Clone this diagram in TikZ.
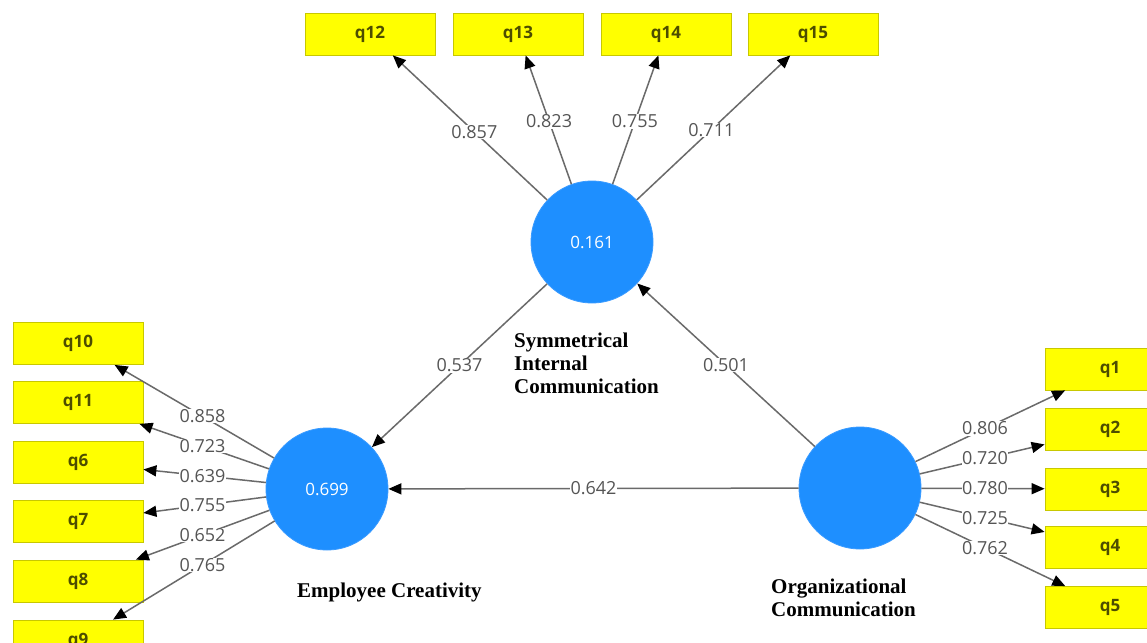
\documentclass[tikz,border=0pt]{standalone}
\usepackage{fontspec}
\setmainfont{Liberation Serif}
\newfontfamily\osans{Open Sans}
\usetikzlibrary{arrows.meta,calc}
\definecolor{boxfill}{HTML}{FFFF00}
\definecolor{boxline}{HTML}{C8C800}
\definecolor{boxtext}{HTML}{4D4D00}
\definecolor{latblue}{HTML}{1E8FFF}
\definecolor{latline}{HTML}{3A9BFF}
\definecolor{linegray}{HTML}{6A6A6A}
\definecolor{labgray}{HTML}{555555}
\tikzset{
  ind/.style={rectangle, fill=boxfill, draw=boxline, line width=0.8pt,
    minimum width=130pt, minimum height=42pt, inner sep=0pt,
    font=\osans\bfseries\fontsize{17}{20}\selectfont, text=boxtext},
  lat/.style={circle, fill=latblue, draw=latline, line width=0.8pt,
    minimum size=122pt, inner sep=0pt,
    font=\osans\fontsize{17}{20}\selectfont, text=white},
  conn/.style={draw=linegray, line width=1.5pt,
    -{Triangle[length=13pt,width=11pt,color=black]}},
  coef/.style={fill=white, inner sep=0.5pt, text=labgray,
    font=\osans\fontsize{18}{20}\selectfont},
  latname/.style={font=\bfseries\fontsize{21}{23}\selectfont, text=black,
    inner sep=0pt, align=left}
}
\begin{document}
\begin{tikzpicture}[x=1pt,y=-1pt]
\useasboundingbox (0,0) rectangle (1147,642);
\clip (0,0) rectangle (1147,642);
\fill[white] (0,0) rectangle (1147,642);

% latent variables
\node[lat] (SIC) at (592,242) {0.161};
\node[lat] (EC) at (327,489) {0.699};
\node[lat] (OC) at (860,488) {};

% indicators top
\node[ind] (q12) at (370,34) {q12};
\node[ind] (q13) at (518,34) {q13};
\node[ind] (q14) at (666,34) {q14};
\node[ind] (q15) at (813,34) {q15};
% indicators left
\node[ind] (q10) at (78,343.5) {q10};
\node[ind] (q11) at (78,402.5) {q11};
\node[ind] (q6) at (78,462.5) {q6};
\node[ind] (q7) at (78,521.5) {q7};
\node[ind] (q8) at (78,581) {q8};
\node[ind] (q9) at (78,641) {q9};
% indicators right
\node[ind] (q1) at (1110,369) {q1};
\node[ind] (q2) at (1110,429) {q2};
\node[ind] (q3) at (1110,489) {q3};
\node[ind] (q4) at (1110,547.5) {q4};
\node[ind] (q5) at (1110,607.5) {q5};

% connectors
\foreach \t in {q12,q13,q14,q15} \draw[conn] (SIC) -- (\t);
\foreach \t in {q10,q11,q6,q7,q8,q9} \draw[conn] (EC) -- (\t);
\foreach \t in {q1,q2,q3,q4,q5} \draw[conn] (OC) -- (\t);
\draw[conn] (SIC) -- (EC);
\draw[conn] (OC) -- (SIC);
\draw[conn] (OC) -- (EC);

% coefficients
\node[coef] (c12) at ($(SIC)!0.53!(q12)$) {0.857};
\node[coef] (c13) at ($(SIC)!0.58!(q13)$) {0.823};
\node[coef] (c14) at ($(SIC)!0.58!(q14)$) {0.755};
\node[coef] (c15) at ($(SIC)!0.54!(q15)$) {0.711};

\node[coef] (c10) at ($(EC)!0.5!(q10)$) {0.858};
\node[coef] (c11) at ($(EC)!0.5!(q11)$) {0.723};
\node[coef] (c6) at ($(EC)!0.5!(q6)$) {0.639};
\node[coef] (c7) at ($(EC)!0.5!(q7)$) {0.755};
\node[coef] (c8) at ($(EC)!0.5!(q8)$) {0.652};
\node[coef] (c9) at ($(EC)!0.5!(q9)$) {0.765};

\node[coef] (c1) at ($(OC)!0.5!(q1)$) {0.806};
\node[coef] (c2) at ($(OC)!0.5!(q2)$) {0.720};
\node[coef] (c3) at ($(OC)!0.5!(q3)$) {0.780};
\node[coef] (c4) at ($(OC)!0.5!(q4)$) {0.725};
\node[coef] (c5) at ($(OC)!0.5!(q5)$) {0.762};

\node[coef] (p1) at ($(SIC)!0.5!(EC)$) {0.537};
\node[coef] (p2) at ($(OC)!0.5!(SIC)$) {0.501};
\node[coef] (p3) at ($(OC)!0.5!(EC)$) {0.642};

% latent names
\node[latname, anchor=north west] (nSIC) at (514,333) {Symmetrical\\Internal\\Communication};
\node[latname, anchor=west] (nEC) at (297,592) {Employee Creativity};
\node[latname, anchor=north west] (nOC) at (771,579) {Organizational\\Communication};
\end{tikzpicture}
\end{document}
